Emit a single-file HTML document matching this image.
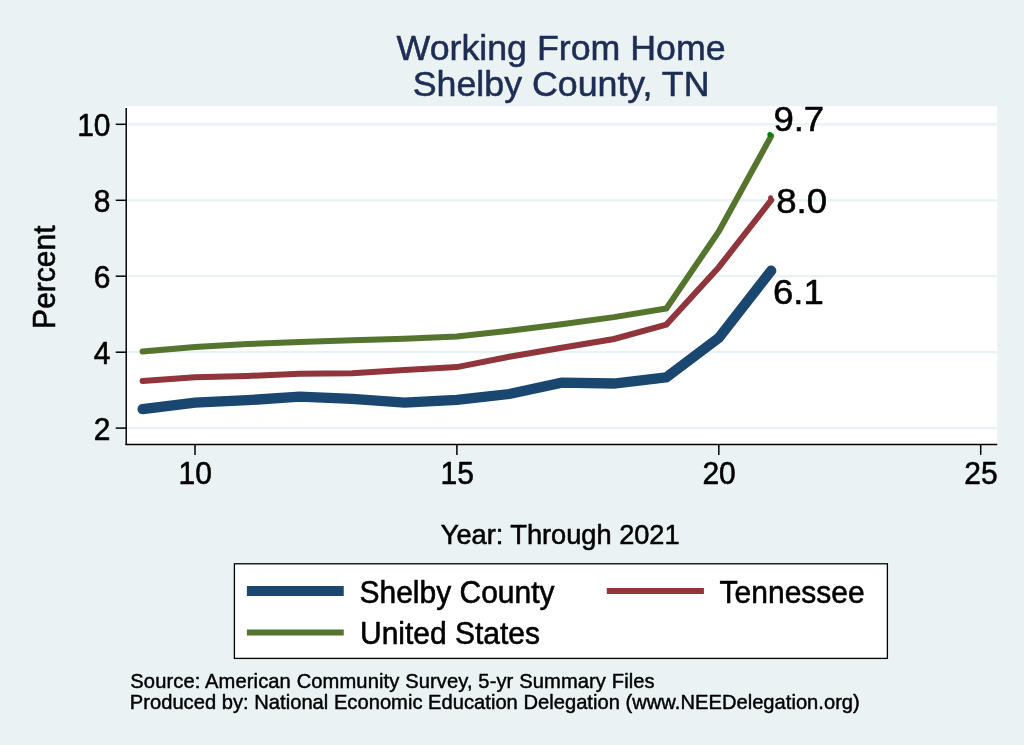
<!DOCTYPE html>
<html><head><meta charset="utf-8"><title>Working From Home - Shelby County, TN</title>
<style>
html,body{margin:0;padding:0;background:#eaf2f3;}
svg{display:block;font-family:"Liberation Sans",Arial,Helvetica,sans-serif;}
text{stroke:#000;stroke-width:0.55px;stroke-linejoin:round;}
.t text{stroke:#1e2d53;}
.n text{stroke-width:0.45px;}
</style></head><body>
<svg width="1024" height="745" viewBox="0 0 1024 745">
<rect width="1024" height="745" fill="#eaf2f3"/>
<rect x="124.5" y="106.1" width="872.7" height="338.6" fill="#ffffff"/>
<g stroke="#e8f1f3" stroke-width="2.2"><line x1="127" x2="997.2" y1="428.1" y2="428.1"/><line x1="127" x2="997.2" y1="352.2" y2="352.2"/><line x1="127" x2="997.2" y1="276.2" y2="276.2"/><line x1="127" x2="997.2" y1="200.3" y2="200.3"/><line x1="127" x2="997.2" y1="124.3" y2="124.3"/></g>
<g fill="none" stroke-linecap="round" stroke-linejoin="miter">
<path d="M142.6,409.2 L195.0,402.7 L247.4,400.2 L299.8,396.6 L352.1,398.9 L404.5,402.7 L456.9,399.9 L509.3,394.0 L561.7,382.6 L614.0,383.5 L666.4,377.3 L718.8,337.8 L771.2,270.7" stroke="#1a476f" stroke-width="10.3"/>
<path d="M142.6,381.1 L195.0,377.3 L247.4,376.0 L299.8,373.7 L352.1,373.2 L404.5,369.9 L456.9,367.1 L509.3,356.8 L561.7,347.7 L614.0,339.0 L666.4,324.6 L718.8,267.2 L771.2,200.2" stroke="#90353b" stroke-width="6"/>
<path d="M142.6,351.6 L195.0,347.1 L247.4,344.0 L299.8,341.9 L352.1,340.2 L404.5,338.7 L456.9,336.4 L509.3,330.7 L561.7,324.3 L614.0,317.1 L666.4,308.5 L718.8,231.4 L771.2,136.1" stroke="#55752f" stroke-width="6"/>
</g>
<circle cx="769.9" cy="134.6" r="2.55" fill="#008000"/>
<circle cx="770.6" cy="197.7" r="2.5" fill="#90353b"/>
<g stroke="#000" stroke-width="1.5">
<line x1="126.2" x2="126.2" y1="108" y2="445.1"/>
<line x1="125.5" x2="997.2" y1="444.6" y2="444.6"/>
<line x1="115.7" x2="126.2" y1="428.1" y2="428.1"/><line x1="115.7" x2="126.2" y1="352.2" y2="352.2"/><line x1="115.7" x2="126.2" y1="276.2" y2="276.2"/><line x1="115.7" x2="126.2" y1="200.3" y2="200.3"/><line x1="115.7" x2="126.2" y1="124.3" y2="124.3"/><line x1="195.0" x2="195.0" y1="444.4" y2="454.9"/><line x1="456.9" x2="456.9" y1="444.4" y2="454.9"/><line x1="718.8" x2="718.8" y1="444.4" y2="454.9"/><line x1="980.7" x2="980.7" y1="444.4" y2="454.9"/>
</g>
<g font-size="30px" fill="#000"><text transform="translate(110.5,440.0) scale(1,1.04)" text-anchor="end">2</text><text transform="translate(110.5,364.1) scale(1,1.04)" text-anchor="end">4</text><text transform="translate(110.5,288.1) scale(1,1.04)" text-anchor="end">6</text><text transform="translate(110.5,212.2) scale(1,1.04)" text-anchor="end">8</text><text transform="translate(110.5,136.2) scale(1,1.04)" text-anchor="end">10</text><text transform="translate(195.3,483.6) scale(1,1.04)" text-anchor="middle">10</text><text transform="translate(457.2,483.6) scale(1,1.04)" text-anchor="middle">15</text><text transform="translate(719.1,483.6) scale(1,1.04)" text-anchor="middle">20</text><text transform="translate(981.0,483.6) scale(1,1.04)" text-anchor="middle">25</text>
<text transform="translate(54.6,277.2) rotate(-90) scale(1,1.04)" text-anchor="middle">Percent</text>
</g>
<g font-size="36px" fill="#000">
<text transform="translate(773.4,131) scale(1.015,0.965)">9.7</text>
<text transform="translate(776.2,212.9) scale(1.015,0.965)">8.0</text>
<text transform="translate(773.0,303.6) scale(1.015,0.965)">6.1</text>
</g>
<g class="t" font-size="35.75px" fill="#1e2d53" text-anchor="middle">
<text x="561.1" y="59.75">Working From Home</text>
<text x="561.1" y="95.9">Shelby County, TN</text>
</g>
<text x="560.2" y="543.7" font-size="27.2px" text-anchor="middle">Year: Through 2021</text>
<rect x="234.4" y="563.8" width="653" height="94.6" fill="#fff" stroke="#000" stroke-width="1.3"/>
<line x1="246.9" x2="343.75" y1="590.9" y2="590.9" stroke="#1a476f" stroke-width="10"/>
<line x1="606.8" x2="703.9" y1="590.9" y2="590.9" stroke="#90353b" stroke-width="6"/>
<line x1="246.9" x2="343.75" y1="632.5" y2="632.5" stroke="#55752f" stroke-width="6"/>
<g font-size="30px" fill="#000">
<text transform="translate(359.5,602.7) scale(1,1.04)">Shelby County</text>
<text transform="translate(719.6,602.7) scale(1,1.04)">Tennessee</text>
<text transform="translate(360,644.1) scale(1,1.04)">United States</text>
</g>
<g class="n" font-size="20.15px" fill="#000">
<text transform="translate(130.3,687.7) scale(1,0.965)" textLength="524.4">Source: American Community Survey, 5-yr Summary Files</text>
<text transform="translate(129.8,708.8) scale(1,0.965)" textLength="730">Produced by: National Economic Education Delegation (www.NEEDelegation.org)</text>
</g>
</svg>
</body></html>
